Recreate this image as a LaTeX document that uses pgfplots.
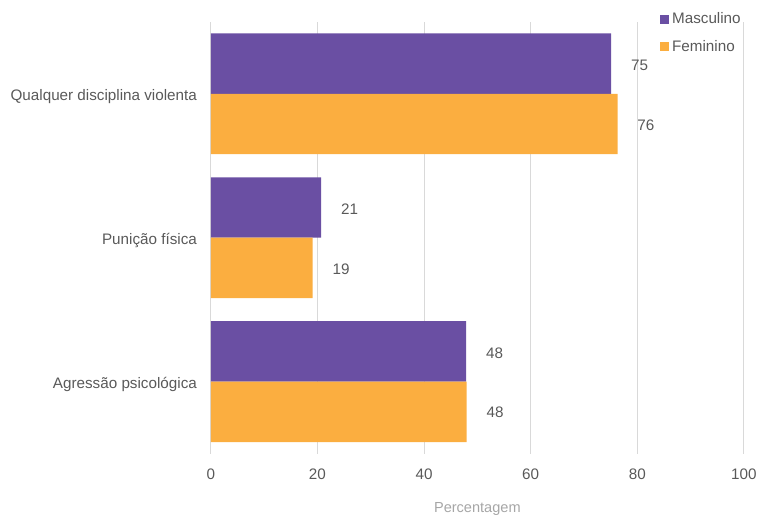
\documentclass[border=0pt]{standalone}
\usepackage{pgfplots}
\pgfplotsset{compat=1.18}
\usepackage{fontspec}
\setmainfont{Liberation Sans}
\definecolor{masc}{HTML}{6A4FA3}
\definecolor{fem}{HTML}{FBAE40}
\definecolor{txt}{HTML}{595959}
\definecolor{gridc}{HTML}{D9D9D9}
\definecolor{lbl}{HTML}{A6A6A6}
\begin{document}
\begin{tikzpicture}
\path (0,0) rectangle (570.75pt,388.5pt);
\begin{axis}[
  at={(159.2pt,46pt)}, anchor=south west,
  scale only axis, width=402.5pt, height=326pt,
  xmin=0, xmax=100, ymin=-0.5, ymax=2.5,
  xtick={0,20,...,100}, ytick={0,1,2},
  yticklabels={Agressão psicológica, Punição física, Qualquer disciplina violenta},
  xmajorgrids, major grid style={gridc, line width=0.75pt},
  axis line style={draw=none},
  major tick length=0pt,
  tick label style={font=\fontsize{11.5}{13}\selectfont, text=txt},
  /pgf/number format/assume math mode=true,
  xticklabel style={yshift=-8pt},
  yticklabel style={xshift=-7pt, yshift=-2pt},
  xlabel={Percentagem},
  xlabel style={at={(axis description cs:0.5,0)}, anchor=center, yshift=-42pt, font=\fontsize{11}{13}\selectfont, text=lbl},
  legend style={at={(0.843,1.028)}, anchor=north west, draw=none, fill=none, inner sep=0pt,
    font=\fontsize{11.5}{13}\selectfont, text=txt, row sep=7pt,
    /tikz/every even column/.append style={column sep=0pt}},
  legend cell align=left,
  legend image code/.code={\path[#1] (0pt,-3.4pt) rectangle (6.8pt,3.4pt);},
  nodes near coords,
  point meta=x,
  every node near coord/.append style={font=\fontsize{11.5}{13}\selectfont, text=txt, anchor=west, xshift=11.5pt,
    /pgf/number format/fixed, /pgf/number format/precision=0, /pgf/number format/assume math mode=true},
]
\addplot[xbar, bar width=0.42, bar shift=0.21, fill=masc, draw=none,
  every node near coord/.append style={/tikz/yshift=21.5pt}] coordinates {(75.1,2) (20.7,1) (47.9,0)};
\addplot[xbar, bar width=0.42, bar shift=-0.21, fill=fem, draw=none,
  every node near coord/.append style={/tikz/yshift=-23.5pt}] coordinates {(76.3,2) (19.1,1) (48.0,0)};
\legend{Masculino, Feminino}
\end{axis}
\end{tikzpicture}
\end{document}
